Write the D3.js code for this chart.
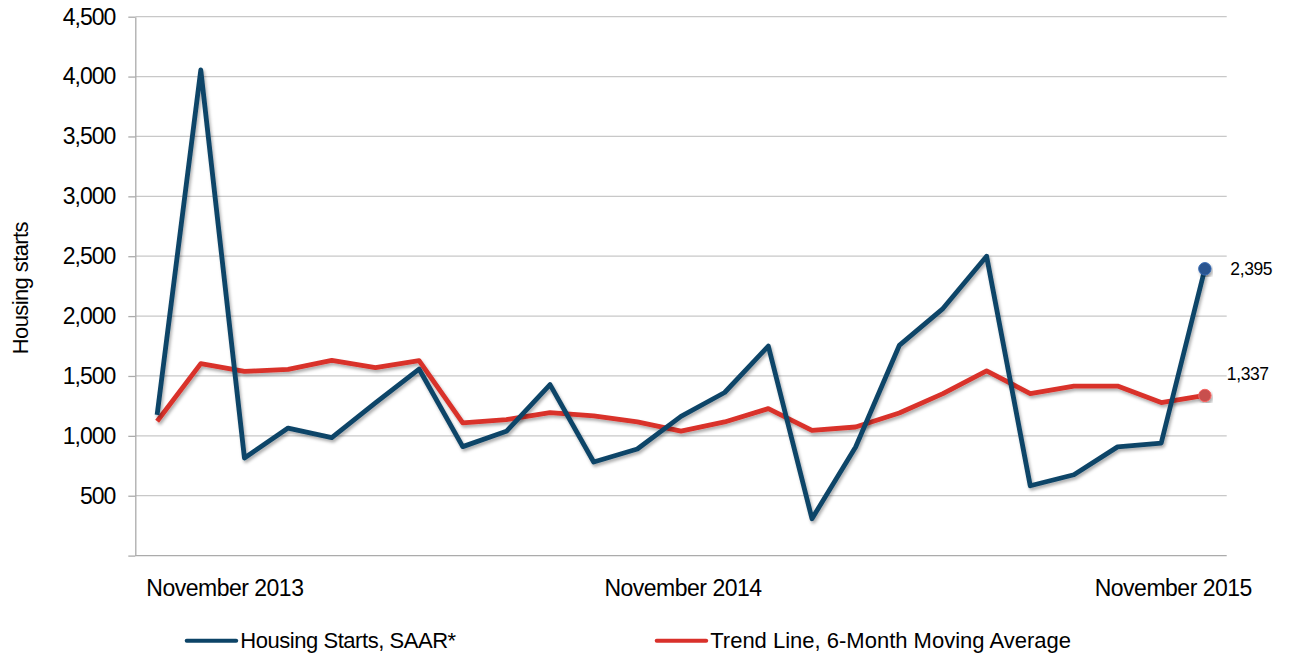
<!DOCTYPE html>
<html>
<head>
<meta charset="utf-8">
<script src="https://cdn.jsdelivr.net/npm/d3@7"></script>
<style>
	body { margin: 0; background: #fff; }
	text { font-family: "Liberation Sans", Arial, sans-serif; fill: #000; }
</style>
</head>
<body>
<svg id="chart" width="1289" height="656"></svg>
<script>
var months = ["November 2013", "December 2013", "January 2014", "February 2014", "March 2014", "April 2014",
	"May 2014", "June 2014", "July 2014", "August 2014", "September 2014", "October 2014", "November 2014",
	"December 2014", "January 2015", "February 2015", "March 2015", "April 2015", "May 2015", "June 2015",
	"July 2015", "August 2015", "September 2015", "October 2015", "November 2015"];
var housingStarts = [1175, 4055, 815, 1065, 985, 1275, 1558, 910, 1038, 1428, 782, 890, 1163, 1362, 1750,
	308, 907, 1755, 2063, 2500, 583, 675, 908, 940, 2395];
var trendLine = [1122, 1603, 1538, 1555, 1630, 1570, 1628, 1108, 1136, 1194, 1166, 1116, 1040, 1116, 1227,
	1046, 1074, 1191, 1353, 1543, 1353, 1416, 1416, 1278, 1337];
var yTicks = [0, 500, 1000, 1500, 2000, 2500, 3000, 3500, 4000, 4500];
var xTickLabels = ["November 2013", "November 2014", "November 2015"];
var seriesNames = ["Housing Starts, SAAR*", "Trend Line, 6-Month Moving Average"];
var seriesColors = ["#0d4467", "#d9312b"];
var markerColors = ["#2b5590", "#c8504e"];
var yTitle = "Housing starts";

(function(){
	var svg = d3.select("#chart");
	var left = 135.3, right = 1226.7, top = 16.7, bottom = 555.6;

	var x = d3.scaleBand().domain(months).range([left, right]);
	var y = d3.scaleLinear().domain([0, 4500]).range([bottom, top]);
	var cx = function(d, i){ return x(months[i]) + x.bandwidth() / 2; };
	var fmt = d3.format(",");

	var defs = svg.append("defs");
	defs.append("filter")
		.attr("id", "shadow")
		.attr("x", "-10%").attr("y", "-10%")
		.attr("width", "120%").attr("height", "120%")
		.append("feDropShadow")
		.attr("dx", 1.5).attr("dy", 2.5)
		.attr("stdDeviation", 1.6)
		.attr("flood-color", "#000")
		.attr("flood-opacity", 0.32);

	// gridlines
	svg.append("g").selectAll("line")
		.data(yTicks.filter(function(d){ return d > 0; }))
		.enter().append("line")
		.attr("x1", left).attr("x2", right)
		.attr("y1", function(d){ return y(d); })
		.attr("y2", function(d){ return y(d); })
		.style("stroke", "#c8c8c8")
		.style("stroke-width", 1.3);

	var yAxis = svg.append("g")
		.attr("transform", "translate(" + left + ",0)")
		.call(d3.axisLeft(y).tickValues(yTicks).tickSize(7).tickSizeOuter(0).tickPadding(13)
			.tickFormat(function(d){ return d ? fmt(d) : ""; }));
	yAxis.select(".domain").style("stroke", "#ababab").style("stroke-width", 1.3);
	yAxis.selectAll(".tick line").style("stroke", "#ababab").style("stroke-width", 1.3);
	yAxis.selectAll(".tick text")
		.attr("font-family", null)
		.style("font-size", "23px")
		.style("letter-spacing", "-1px");

	svg.append("line")
		.attr("x1", left).attr("x2", right)
		.attr("y1", y(0)).attr("y2", y(0))
		.style("stroke", "#ababab")
		.style("stroke-width", 1.3);

	svg.append("g").selectAll("text")
		.data(xTickLabels)
		.enter().append("text")
		.attr("x", function(d, i){
			var px = x(d) + x.bandwidth() / 2;
			if (i === 0) return x(d) + 11;
			if (i === xTickLabels.length - 1) return px + 47;
			return px + 2;
		})
		.attr("y", 596)
		.attr("text-anchor", function(d, i){
			return i === 0 ? "start" : (i === xTickLabels.length - 1 ? "end" : "middle");
		})
		.style("font-size", "23px")
		.style("letter-spacing", "-0.5px")
		.text(function(d){ return d; });

	svg.append("text")
		.attr("transform", "translate(28," + ((top + bottom) / 2 + 2) + ") rotate(-90)")
		.attr("text-anchor", "middle")
		.style("font-size", "22px")
		.style("letter-spacing", "-0.6px")
		.text(yTitle);

	var line = d3.line().x(cx).y(function(d){ return y(d); });
	var series = [trendLine, housingStarts];
	var colors = [seriesColors[1], seriesColors[0]];

	svg.append("g").selectAll("path")
		.data(series)
		.enter().append("path")
		.attr("d", function(d){ return line(d); })
		.attr("filter", "url(#shadow)")
		.style("fill", "none")
		.style("stroke", function(d, i){ return colors[i]; })
		.style("stroke-width", 4.8)
		.style("stroke-linejoin", "round");

	// end markers and labels
	var last = months.length - 1;
	var ends = [
		{ v: housingStarts[last], c: markerColors[0], dx: 25.5, dy: 0 },
		{ v: trendLine[last], c: markerColors[1], dx: 22, dy: -21.5 }
	];
	var endG = svg.append("g").selectAll("g")
		.data(ends)
		.enter().append("g");
	endG.append("circle")
		.attr("cx", cx(null, last))
		.attr("cy", function(d){ return y(d.v); })
		.attr("r", 6.2)
		.attr("filter", "url(#shadow)")
		.style("fill", function(d){ return d.c; })
		.style("stroke", function(d){ return d3.color(d.c).brighter(0.6); })
		.style("stroke-width", 1);
	endG.append("text")
		.attr("x", function(d){ return cx(null, last) + d.dx; })
		.attr("y", function(d){ return y(d.v) + d.dy; })
		.attr("dy", "0.35em")
		.style("font-size", "17.5px")
		.style("letter-spacing", "-0.4px")
		.text(function(d){ return fmt(d.v); });

	// legend
	var legendX = [186.7, 656.7];
	var legend = svg.append("g").selectAll("g")
		.data(seriesNames)
		.enter().append("g")
		.attr("transform", function(d, i){ return "translate(" + legendX[i] + ",640.7)"; });
	legend.append("line")
		.attr("x1", 0).attr("x2", 49.5)
		.style("stroke", function(d, i){ return seriesColors[i]; })
		.style("stroke-width", 4)
		.style("stroke-linecap", "round");
	legend.append("text")
		.attr("x", 53.5)
		.attr("y", 6.8)
		.style("font-size", "22px")
		.style("letter-spacing", function(d, i){ return i === 0 ? "-0.45px" : "0px"; })
		.text(function(d){ return d; });
})();
</script>
</body>
</html>
